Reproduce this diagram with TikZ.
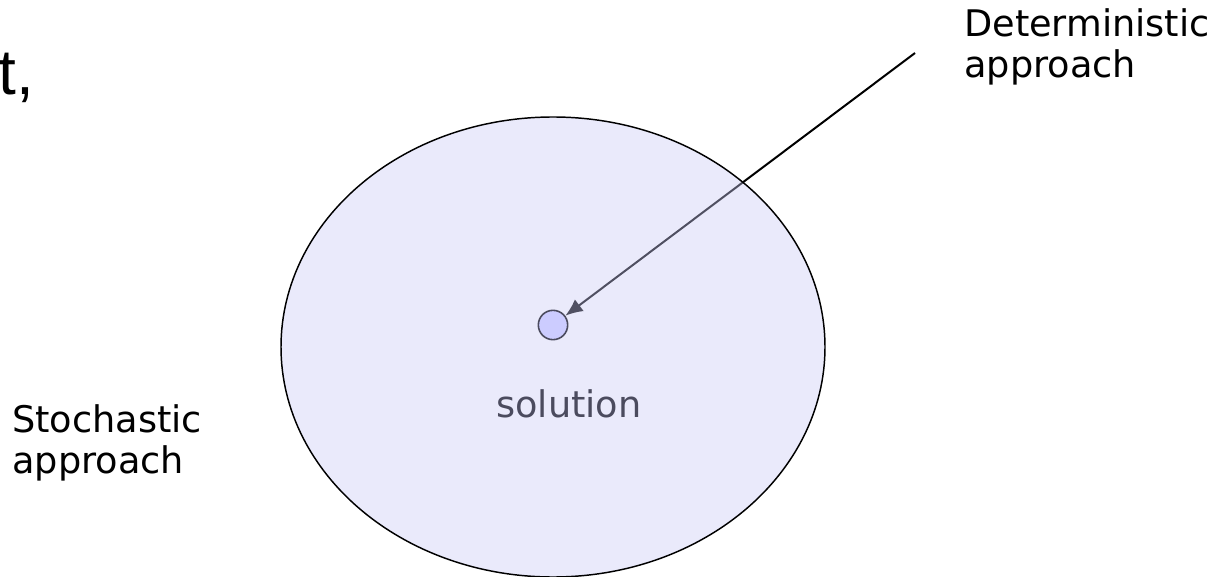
\documentclass[tikz,border=0pt]{standalone}
\usepackage{fontspec}
\setmainfont{DejaVu Sans}
\newfontfamily\titlefont{Liberation Sans}
\usetikzlibrary{arrows.meta,backgrounds,shapes.geometric}
\definecolor{ellfill}{RGB}{202,202,245}
\definecolor{dotfill}{RGB}{204,204,255}
\definecolor{dotline}{RGB}{75,75,94}
\definecolor{soltext}{RGB}{75,75,94}
\tikzset{
  regionshape/.style={ellipse, draw=black, line width=1.1pt, fill=ellfill, fill opacity=0.4, draw opacity=1, text opacity=1, inner sep=0pt},
  dotshape/.style={circle, draw=dotline, line width=1.2pt, fill=dotfill, inner sep=0pt, minimum size=22pt},
  labeltext/.style={align=left, anchor=base west, inner sep=0pt, font=\fontsize{27.5}{30.75}\selectfont},
  arrowline/.style={draw=black, line width=1.5pt, -{Latex[length=13pt,width=11pt]}}
}
\begin{document}
\begin{tikzpicture}[x=0.75pt,y=-0.75pt]
\useasboundingbox (0,0) rectangle (1220,577);
\node[regionshape, minimum width=408pt, minimum height=345pt] (region) at (553,347) {};
\node[dotshape] (dot) at (553,325) {};
\node[anchor=base west, inner sep=0pt, text=soltext, font=\fontsize{27.5}{31}\selectfont] (sol) at (496,417) {solution};
\coordinate (dstart) at (915,53);
\begin{pgfonlayer}{background}
\draw[arrowline] (dstart) -- (dot);
\end{pgfonlayer}
\node[labeltext] (det) at (964,78) {Deterministic\\approach};
\node[labeltext] (sto) at (12,473) {Stochastic\\approach};
\node[anchor=base west, inner sep=0pt, font=\titlefont\fontsize{48}{52}\selectfont] (frag) at (-2,95) {t,};
\end{tikzpicture}
\end{document}
